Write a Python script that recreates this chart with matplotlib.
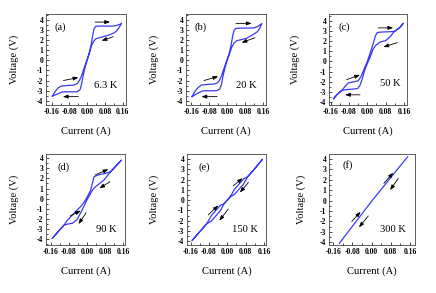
import matplotlib
matplotlib.use("Agg")
import matplotlib.pyplot as plt
from matplotlib.ticker import MultipleLocator, FormatStrFormatter

plt.rcParams['font.family'] = ['Liberation Serif', 'DejaVu Serif']
plt.rcParams['axes.unicode_minus'] = False

# I-V loops (current in A, voltage in V)
i_a = [-0.157, -0.145, -0.132, -0.118, -0.09, -0.06, -0.045, -0.035, -0.025, -0.01, 0.0, 0.01, 0.018, 0.024, 0.03, 0.038,
       0.06, 0.09, 0.115, 0.13, 0.145, 0.155,
       0.145, 0.132, 0.122, 0.098, 0.061, 0.04, 0.031, 0.02, 0.008, -0.002, -0.012, -0.02, -0.026, -0.032, -0.045,
       -0.07, -0.1, -0.115, -0.135, -0.157]
v_a = [-3.55, -3.1, -2.75, -2.55, -2.5, -2.45, -2.3, -2.0, -1.5, -0.5, 0.1, 0.8, 1.6, 2.4, 3.1, 3.38,
       3.4, 3.4, 3.4, 3.45, 3.55, 3.67,
       3.3, 2.9, 2.74, 2.51, 2.28, 2.15, 1.95, 1.5, 0.6, -0.1, -0.9, -1.7, -2.4, -2.9, -3.12,
       -3.12, -3.12, -3.15, -3.35, -3.55]

i_b = [-0.157, -0.145, -0.13, -0.115, -0.09, -0.06, -0.045, -0.035, -0.025, -0.01, 0.0, 0.01, 0.018, 0.024, 0.03, 0.038,
       0.06, 0.09, 0.12, 0.135, 0.145, 0.155,
       0.145, 0.135, 0.124, 0.086, 0.042, 0.03, 0.02, 0.008, -0.002, -0.012, -0.02, -0.026, -0.034, -0.046,
       -0.07, -0.1, -0.112, -0.135, -0.157]
v_b = [-3.6, -3.1, -2.7, -2.45, -2.4, -2.35, -2.25, -2.0, -1.5, -0.5, 0.1, 0.8, 1.6, 2.4, 2.95, 3.17,
       3.2, 3.2, 3.22, 3.35, 3.5, 3.65,
       3.2, 2.85, 2.68, 2.18, 1.95, 1.7, 1.3, 0.5, -0.1, -0.9, -1.7, -2.4, -2.85, -3.0,
       -3.02, -3.02, -3.05, -3.3, -3.6]

i_c = [-0.147, -0.13, -0.112, -0.095, -0.083, -0.06, -0.04, -0.028, -0.015, 0.0, 0.012, 0.025, 0.035, 0.044,
       0.07, 0.1, 0.118, 0.14, 0.157,
       0.14, 0.118, 0.1, 0.08, 0.055, 0.035, 0.025, 0.01, 0.0, -0.012, -0.022, -0.032, -0.042,
       -0.065, -0.09, -0.112, -0.13, -0.147]
v_c = [-3.65, -3.2, -2.85, -2.4, -2.1, -2.0, -1.9, -1.5, -0.8, 0.0, 0.8, 1.7, 2.5, 2.85,
       2.9, 2.92, 2.95, 3.3, 3.74,
       3.3, 2.95, 2.45, 2.05, 1.9, 1.55, 1.2, 0.3, -0.2, -0.9, -1.7, -2.35, -2.65,
       -2.72, -2.75, -2.85, -3.2, -3.65]

i_d = [-0.153, -0.12, -0.101, -0.09, -0.079, -0.06, -0.043, -0.025, -0.01, 0.0, 0.015, 0.031, 0.05, 0.082, 0.104, 0.151,
       0.104, 0.09, 0.075, 0.055, 0.038, 0.025, 0.01, 0.0, -0.015, -0.031, -0.045, -0.065, -0.085, -0.101, -0.153]
v_d = [-3.9, -3.05, -2.6, -2.2, -1.94, -1.5, -1.1, -0.7, -0.25, 0.15, 0.8, 2.17, 2.35, 2.5, 2.67, 3.8,
       2.67, 2.3, 1.85, 1.5, 1.19, 0.9, 0.3, -0.1, -0.8, -1.5, -2.1, -2.43, -2.5, -2.6, -3.9]

i_e = [-0.153, -0.12, -0.09, -0.07, -0.05, -0.03, -0.015, 0.0, 0.015, 0.03, 0.05, 0.07, 0.09, 0.12, 0.153,
       0.12, 0.09, 0.07, 0.05, 0.03, 0.015, 0.0, -0.015, -0.03, -0.05, -0.07, -0.09, -0.12, -0.153]
v_e = [-3.9, -3.06, -2.3, -1.52, -1.0, -0.5, -0.38, 0.0, 0.38, 1.02, 1.52, 2.04, 2.3, 3.06, 3.95,
       3.06, 2.3, 1.53, 1.03, 0.52, 0.38, 0.0, -0.38, -1.02, -1.53, -2.04, -2.3, -3.06, -3.9]

i_f = [-0.135, 0.0, 0.15]
v_f = [-4.1, -0.05, 4.22]

panel_labels = ["(a)", "(b)", "(c)", "(d)", "(e)", "(f)"]
temps = ["6.3 K", "20 K", "50 K", "90 K", "150 K", "300 K"]
currents = [i_a, i_b, i_c, i_d, i_e, i_f]
voltages = [v_a, v_b, v_c, v_d, v_e, v_f]

# arrows: (I tail, V tail, I head, V head)
arrows = [
    [(0.036, 3.8, 0.103, 3.8), (0.118, 2.35, 0.065, 1.95), (-0.107, -2.0, -0.04, -1.7), (-0.04, -3.6, -0.11, -3.6)],
    [(0.039, 3.67, 0.109, 3.67), (0.124, 2.25, 0.064, 1.75), (-0.104, -2.0, -0.04, -1.6), (-0.045, -3.6, -0.115, -3.6)],
    [(0.048, 3.3, 0.113, 3.3), (0.131, 1.85, 0.07, 1.42), (-0.09, -1.78, -0.032, -1.32), (-0.032, -3.27, -0.097, -3.27)],
    [(0.035, 2.34, 0.094, 2.9), (0.101, 1.68, 0.054, 1.02), (-0.075, -1.71, -0.028, -1.18), (-0.004, -1.38, -0.038, -2.5)],
    [(0.026, 1.39, 0.067, 2.13), (0.092, 1.71, 0.055, 0.74), (-0.083, -1.42, -0.039, -0.52), (0.004, -0.87, -0.035, -2.0)],
    [(0.051, 1.66, 0.09, 2.69), (0.111, 2.14, 0.077, 1.02), (-0.083, -2.0, -0.046, -1.06), (-0.014, -1.47, -0.053, -2.56)],
]

# frame boxes in pixels: left, right, top, bottom
boxes = [(46, 126, 14, 105), (186, 266, 14, 105), (329, 407, 14, 105),
         (46, 125, 154, 245), (187, 266, 154, 245), (329, 415, 154, 245)]
xlims = [(-0.186, 0.175), (-0.184, 0.173), (-0.167, 0.173), (-0.181, 0.167), (-0.176, 0.169), (-0.178, 0.181)]
ylims = [(-4.43, 4.6), (-4.43, 4.6), (-4.27, 4.66), (-4.57, 4.41), (-4.36, 4.48), (-4.26, 4.49)]
ylab_x = [-0.34, -0.34, -0.37, -0.34, -0.35, -0.27]
temp_pos = [(0.75, 0.21), (0.75, 0.21), (0.79, 0.24), (0.76, 0.165), (0.74, 0.165), (0.74, 0.17)]
lab_pos = [(0.11, 0.86), (0.11, 0.86), (0.12, 0.85), (0.15, 0.85), (0.15, 0.85), (0.16, 0.88)]

W, H = 436, 293
fig = plt.figure(figsize=(W / 100, H / 100), dpi=100)

for k in range(6):
    l, r, t, b = boxes[k]
    ax = fig.add_axes([l / W, 1 - b / H, (r - l) / W, (b - t) / H])
    ax.plot(currents[k], voltages[k], color="#3a3af5", lw=0.9)
    for (x0, y0, x1, y1) in arrows[k]:
        ax.annotate("", xy=(x1, y1), xytext=(x0, y0),
                    arrowprops=dict(arrowstyle="-|>,head_length=0.3,head_width=0.11",
                                    color="black", lw=0.6, shrinkA=0, shrinkB=0))
    ax.set_xlim(*xlims[k])
    ax.set_ylim(*ylims[k])
    ax.xaxis.set_major_locator(MultipleLocator(0.08))
    ax.xaxis.set_minor_locator(MultipleLocator(0.04))
    ax.yaxis.set_major_locator(MultipleLocator(1))
    ax.yaxis.set_minor_locator(MultipleLocator(0.5))
    ax.xaxis.set_major_formatter(FormatStrFormatter("%.2f"))
    ax.yaxis.set_major_formatter(FormatStrFormatter("%d"))
    ax.tick_params(which="both", direction="in", width=0.5, top=False, right=False)
    ax.tick_params(which="major", length=2.5, pad=2)
    ax.tick_params(which="minor", length=1.3)
    for lab in ax.get_xticklabels() + ax.get_yticklabels():
        lab.set_fontsize(5.5)
        lab.set_fontweight("bold")
    for s in ax.spines.values():
        s.set_linewidth(0.6)
        s.set_color("#444444")
    ax.set_xlabel("Current (A)", fontsize=7.6)
    ax.set_ylabel("Voltage (V)", fontsize=7.6)
    ax.xaxis.set_label_coords(0.5, -0.23)
    ax.yaxis.set_label_coords(ylab_x[k], 0.5)
    ax.text(lab_pos[k][0], lab_pos[k][1], panel_labels[k], transform=ax.transAxes,
            fontsize=7.6, ha="left", va="center")
    ax.text(temp_pos[k][0], temp_pos[k][1], temps[k], transform=ax.transAxes,
            fontsize=7.6, ha="center", va="center")

fig.savefig("out.png", dpi=100)
